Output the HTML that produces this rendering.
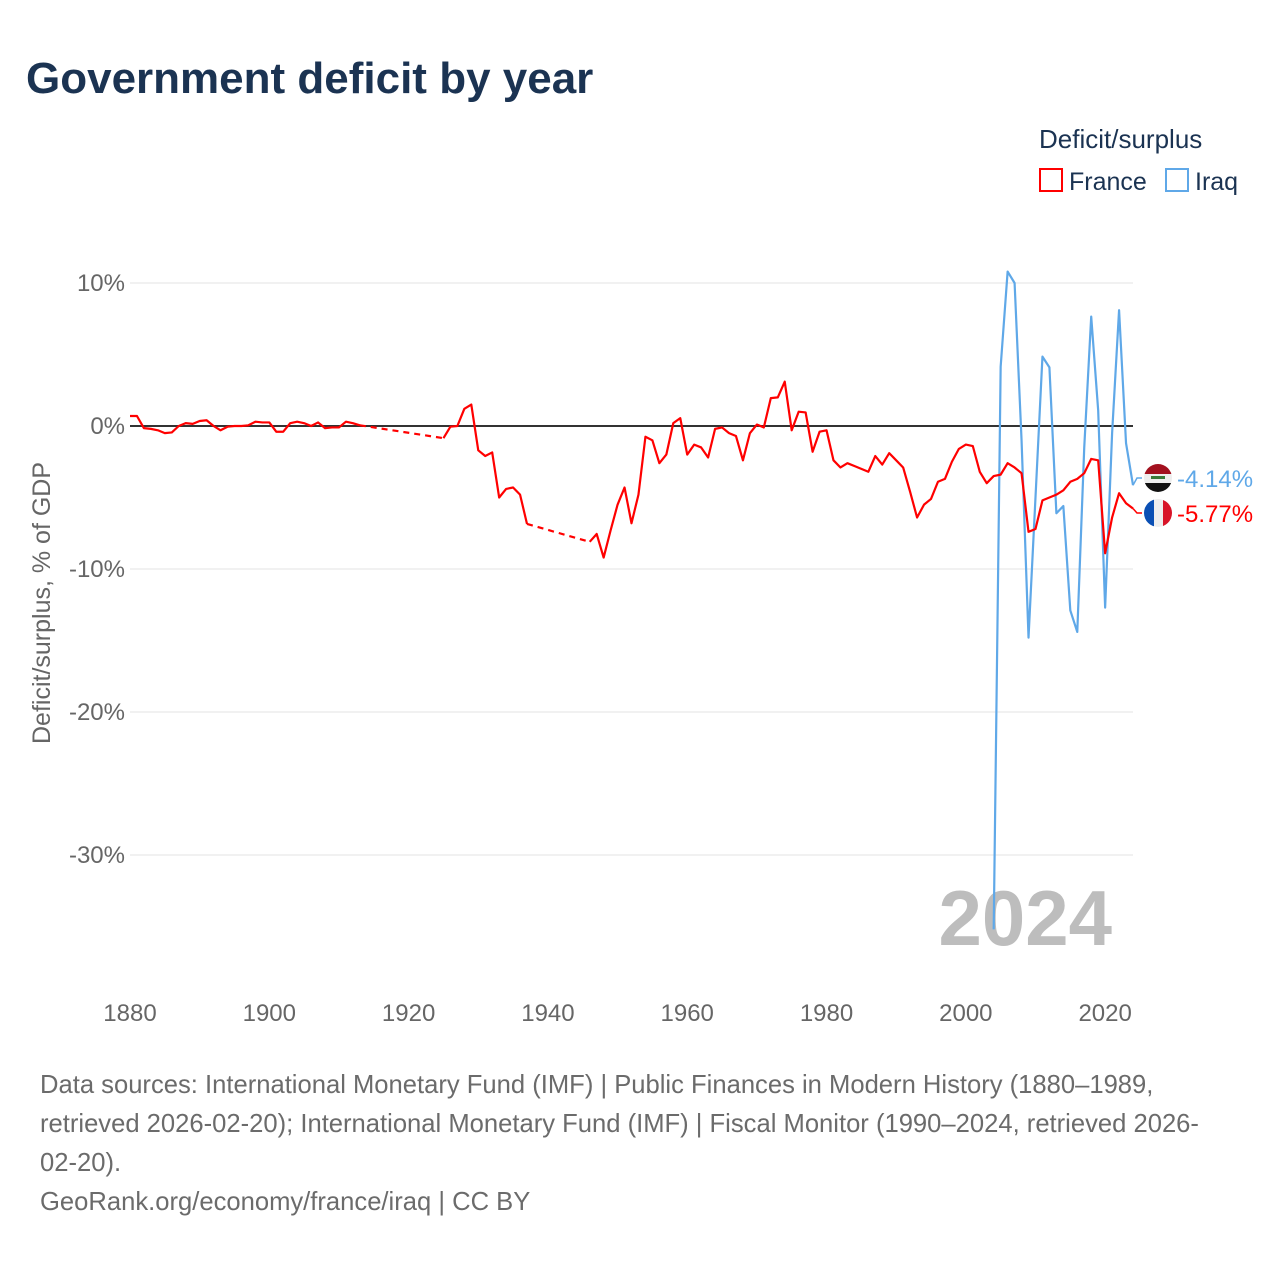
<!DOCTYPE html>
<html><head><meta charset="utf-8">
<style>
body{margin:0;background:#fff;width:1280px;height:1280px;overflow:hidden;font-family:"Liberation Sans",sans-serif}
svg text{font-family:"Liberation Sans",sans-serif}
</style></head>
<body>
<svg id="chart" width="1280" height="1280" viewBox="0 0 1280 1280" xmlns="http://www.w3.org/2000/svg">
<text x="26" y="93" font-size="44" font-weight="bold" fill="#1b3352">Government deficit by year</text>
<text x="1039" y="148" font-size="26" fill="#1b3352">Deficit/surplus</text>
<g>
<rect x="1040" y="169" width="22" height="22" fill="none" stroke="#ff0000" stroke-width="2"/>
<text x="1069" y="190" font-size="25" fill="#1b3352">France</text></g>
<g>
<rect x="1166" y="169" width="22" height="22" fill="none" stroke="#5fa8e8" stroke-width="2"/>
<text x="1195" y="190" font-size="25" fill="#1b3352">Iraq</text></g>
<text transform="translate(50,603) rotate(-90)" text-anchor="middle" font-size="25" fill="#666">Deficit/surplus, % of GDP</text>
<g id="grid"></g>
<text x="1112" y="945" text-anchor="end" font-size="78" font-weight="bold" fill="#bdbdbd">2024</text>
<g id="series"></g>
<g id="labels"></g>
<text font-size="25.6" fill="#6b6b6b">
<tspan x="40" y="1093">Data sources: International Monetary Fund (IMF) | Public Finances in Modern History (1880–1989,</tspan>
<tspan x="40" y="1132">retrieved 2026-02-20); International Monetary Fund (IMF) | Fiscal Monitor (1990–2024, retrieved 2026-</tspan>
<tspan x="40" y="1171">02-20).</tspan>
<tspan x="40" y="1210">GeoRank.org/economy/france/iraq | CC BY</tspan>
</text>
</svg>
<script>
const yTicks=[10,0,-10,-20,-30];
const xTicks=[1880,1900,1920,1940,1960,1980,2000,2020];
const franceStart=1880;
const franceValues=[0.7,0.7,-0.15,-0.2,-0.3,-0.5,-0.45,0,0.2,0.15,0.35,0.4,0,-0.3,-0.05,0,0,0.05,0.3,0.25,0.25,-0.4,-0.4,0.2,0.3,0.2,0,0.25,-0.15,-0.1,-0.1,0.3,0.2,0.05,
null,null,null,null,null,null,null,null,null,null,null,
-0.85,-0.05,0,1.2,1.5,-1.7,-2.1,-1.85,-5.0,-4.4,-4.3,-4.8,-6.85,
null,null,null,null,null,null,null,null,
-8.1,-7.55,-9.2,-7.3,-5.5,-4.3,-6.8,-4.8,-0.75,-1.0,-2.6,-2.0,0.2,0.55,-2.0,-1.3,-1.5,-2.2,-0.2,-0.1,-0.5,-0.7,-2.4,-0.5,0.1,-0.1,1.95,2.0,3.1,-0.3,1.0,0.95,-1.8,-0.4,-0.3,-2.4,-2.9,-2.6,-2.8,-3.0,-3.2,-2.1,-2.7,-1.9,-2.4,-2.9,-4.6,-6.4,-5.5,-5.1,-3.9,-3.7,-2.5,-1.6,-1.3,-1.4,-3.2,-4.0,-3.5,-3.4,-2.6,-2.9,-3.3,-7.4,-7.2,-5.2,-5.0,-4.8,-4.5,-3.9,-3.7,-3.3,-2.3,-2.4,-8.9,-6.4,-4.7,-5.4,-5.77];
const iraqStart=2004;
const iraqValues=[-35.2,4.15,10.8,10.0,-1.0,-14.8,-5.0,4.85,4.1,-6.1,-5.6,-12.9,-14.4,-1.5,7.65,1.1,-12.7,-0.5,8.1,-1.2,-4.14];
const endLabels=["-4.14%","-5.77%"];

const X0=130,X1=1133,Y0=426,YPER=14.3;
const sx=y=>X0+(y-1880)*(X1-X0)/144;
const sy=v=>Y0-v*YPER;
const NS="http://www.w3.org/2000/svg";
function mk(t,a,p){const e=document.createElementNS(NS,t);for(const k in a)e.setAttribute(k,a[k]);p.appendChild(e);return e;}
const grid=document.getElementById('grid');
yTicks.forEach(v=>{
  const l=mk('line',{x1:X0,x2:X1,y1:sy(v),y2:sy(v),stroke:v===0?'#333':'#e3e3e3','stroke-width':v===0?2:1},grid);
  
  
  const t=mk('text',{x:125,y:sy(v)+8,'text-anchor':'end','font-size':24,fill:'#666'},grid);
  t.textContent=v+'%';
  
  
});
xTicks.forEach(y=>{
  const t=mk('text',{x:sx(y),y:1021,'text-anchor':'middle','font-size':24,fill:'#666'},grid);
  t.textContent=y;
  
  
});
const ser=document.getElementById('series');
function draw(start,vals,color,name){
  const g=mk('g',{},ser);
  
  
  let seg=[],last=null;
  const flush=()=>{if(seg.length>1)mk('polyline',{points:seg.join(' '),fill:'none',stroke:color,'stroke-width':2.2,'stroke-linejoin':'round'},g);seg=[];};
  vals.forEach((v,i)=>{
    if(v===null){flush();return;}
    const p=[sx(start+i),sy(v)];
    if(seg.length===0&&last&&last.i<i-1){
      mk('line',{x1:last.p[0],y1:last.p[1],x2:p[0],y2:p[1],stroke:color,'stroke-width':2.2,'stroke-dasharray':'6,5'},g);
    }
    seg.push(p.join(','));last={i,p};
  });
  flush();
}
draw(iraqStart,iraqValues,'#5fa8e8','iraq');
draw(franceStart,franceValues,'#ff0000','france');
const lab=document.getElementById('labels');
const iy=sy(iraqValues[iraqValues.length-1]),fy=sy(franceValues[franceValues.length-1]);
const iv=478,fv=513;
mk('polyline',{points:`${X1},${iy} ${X1+4},${iv} 1142,${iv}`,fill:'none',stroke:'#5fa8e8','stroke-width':1.5},lab);
mk('polyline',{points:`${X1},${fy} ${X1+4},${fv} 1142,${fv}`,fill:'none',stroke:'#ff0000','stroke-width':1.5},lab);
const fi=mk('g',{},lab);


const ci=mk('clipPath',{id:'ci'},fi);mk('circle',{cx:1158,cy:iv,r:14},ci);
const gi=mk('g',{'clip-path':'url(#ci)'},fi);
mk('rect',{x:1144,y:iv-14,width:28,height:10,fill:'#a3111f'},gi);
mk('rect',{x:1144,y:iv-4,width:28,height:9,fill:'#eee'},gi);
mk('rect',{x:1144,y:iv+5,width:28,height:10,fill:'#111'},gi);
mk('rect',{x:1151,y:iv-2,width:14,height:3,fill:'#3a7a3a'},gi);
const ff=mk('g',{},lab);


const cp=mk('clipPath',{id:'cf'},ff);mk('circle',{cx:1158,cy:fv,r:14},cp);
const gf=mk('g',{'clip-path':'url(#cf)'},ff);
mk('rect',{x:1144,y:fv-14,width:10,height:28,fill:'#0a4fb4'},gf);
mk('rect',{x:1154,y:fv-14,width:9,height:28,fill:'#eee'},gf);
mk('rect',{x:1163,y:fv-14,width:10,height:28,fill:'#d81428'},gf);
const t1=mk('text',{x:1177,y:iv+9,'font-size':24,fill:'#5fa8e8'},lab);t1.textContent=endLabels[0];


const t2=mk('text',{x:1177,y:fv+9,'font-size':24,fill:'#ff0000'},lab);t2.textContent=endLabels[1];


</script>
</body></html>
